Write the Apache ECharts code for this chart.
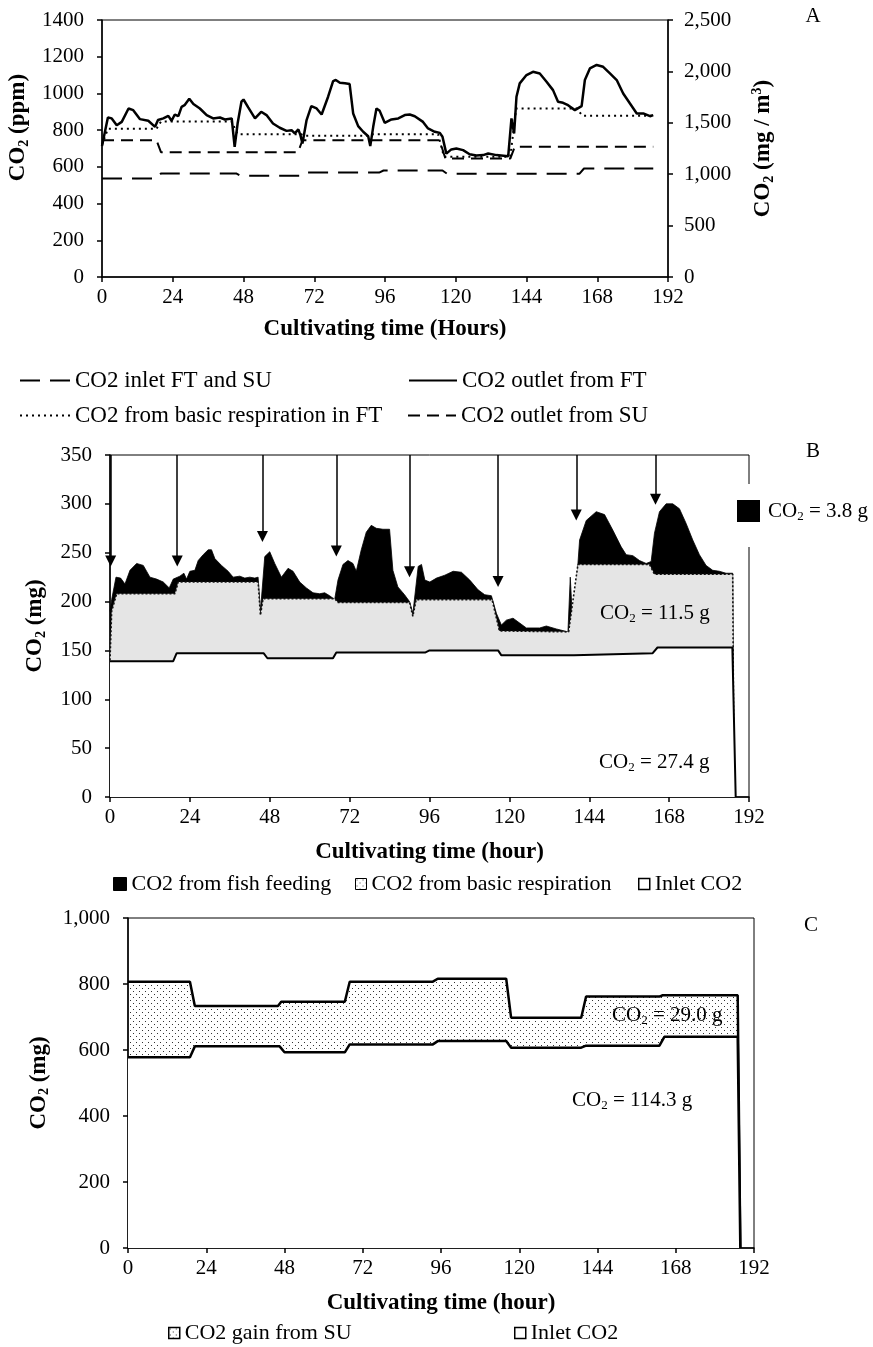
<!DOCTYPE html>
<html><head><meta charset="utf-8">
<script src="https://cdn.jsdelivr.net/npm/echarts@6.0.0/dist/echarts.min.js"></script>
<style>html,body{margin:0;padding:0;background:#fff}#c{width:873px;height:1347px}</style>
</head><body><div id="c"></div><script>
// ---------- tick labels ----------
const hourTicks = ['0','24','48','72','96','120','144','168','192'];
const ppmTicks = ['0','200','400','600','800','1000','1200','1400'];
const mgm3Ticks = ['0','500','1,000','1,500','2,000','2,500'];
const mgTicksB = ['0','50','100','150','200','250','300','350'];
const mgTicksC = ['0','200','400','600','800','1,000'];

// ---------- Panel A (ppm) : [hour, value] ----------
const inletA = [[0,537],[18.5,537],[20,564],[45.5,564],[47,551],[67,551],[68.5,569],[94,569],[95.5,580],[115.5,580],[117,563],[162,563],[163.5,591],[187,591]];
const outletSU = [[0,745],[18.5,745],[20,680],[66.5,680],[68,745],[114.5,745],[116.5,645],[138.5,645],[140,709],[187,709]];
const respA = [[0,720],[2,807],[18.5,807],[20,847],[44,847],[46,778],[67.5,778],[68.5,769],[90,769],[91,778],[114,778],[116,655],[138.5,655],[140.5,918],[161,918],[163,878],[187,878]];
const outletFT = [[0,713],[2,869],[3.3,864],[5,827],[6.7,845],[9,918],[10.6,909],[12.9,860],[15.7,851],[18,818],[19,855],[20.8,864],[22.5,878],[23.6,851],[24.7,885],[25.9,876],[27,927],[28,936],[29.6,971],[31,942],[33.2,918],[35.5,882],[37.7,864],[40,869],[41.7,858],[44,864],[45,709],[46,836],[47.3,955],[48,967],[49.6,924],[51.9,864],[54,900],[55.8,882],[58,836],[60.3,813],[62.6,796],[64.3,800],[65.4,782],[66.6,804],[67.3,773],[68,727],[69.4,855],[71,931],[72.8,918],[74.5,885],[76.7,982],[78.4,1067],[79.3,1073],[80.7,1058],[82.4,1055],[84,1051],[85.2,891],[86.9,822],[88.6,791],[90.3,767],[91,713],[92,818],[93.1,918],[94.2,905],[95.9,840],[98.2,858],[100.5,864],[102.7,882],[104.4,885],[106.1,876],[108.9,845],[110.6,809],[112.9,791],[114.6,785],[115.5,764],[116.8,672],[118.5,695],[120.2,700],[122.5,691],[124.7,669],[127,662],[129.3,664],[131,673],[133.8,664],[137.8,658],[138.9,864],[139.8,782],[140.6,982],[141.7,1055],[144,1100],[146.2,1118],[148.5,1109],[150.8,1064],[153,1018],[154.7,955],[156.4,949],[158.1,936],[160.4,909],[162.7,931],[163.8,1073],[165.5,1136],[167.8,1155],[170,1145],[172.3,1109],[174.6,1073],[176.8,1000],[179.1,945],[181.4,891],[183.6,891],[185.9,876],[187,882]];

// ---------- Panel B (mg) ----------
const feedB = [[0,190],[0.5,202],[1.8,225],[3.2,224],[4.5,218],[6,232],[8,239],[10,237],[12,225],[14,223],[16,220],[17.8,214],[19,223],[21,226],[22.2,229],[23,223],[24,231],[25.5,232],[26.5,242],[28,248],[29.5,253],[30.5,253],[31.5,244],[33.5,237],[35.5,231],[37,225],[39,226],[40.5,224],[42,225],[43.5,224],[44.5,225],[45.2,190],[46.5,246],[48,251],[49.5,239],[51.5,225],[53.5,234],[55,231],[57,220],[59,214],[61,209],[63,208],[64.5,209],[66,206],[67.5,202],[68.5,222],[70,238],[71.5,242],[73,239],[74,231],[75.5,253],[77,271],[78.5,278],[80,275],[82,274],[84,274],[85,232],[86.5,215],[88.5,207],[90,200],[91,188],[92.6,236],[93.6,238],[94.6,222],[96.1,220],[98.1,224],[100.6,227],[103.1,231],[105.6,230],[108.1,222],[110.6,212],[112.6,207],[114.6,206],[116.1,188],[117.6,176],[119.1,181],[121.1,183],[123.1,178],[125.1,173],[129.1,173],[131.1,175],[134.1,172],[137.6,169],[138.3,225],[139.1,172],[140.1,215],[141.1,263],[143.1,283],[146.1,292],[148.6,289],[151.1,273],[153.6,256],[155.1,248],[157.1,247],[159.1,242],[161.1,239],[162.6,241],[163.6,270],[165.1,292],[167.1,300],[169.1,300],[171.1,295],[173.1,280],[175.1,263],[177.1,248],[179.1,237],[181.1,232],[183.1,231],[185.1,229],[187.1,229],[187.5,0]];
const respB = [[0,140],[0.5,190],[2,208],[19.5,208],[20.5,220],[44.5,220],[45.2,186],[46,203],[67.5,203],[68.5,199],[90,199],[91,185],[92,202],[114.8,202],[117,170],[137.8,169],[140.6,238],[162.1,238],[163.6,228],[187.1,228],[187.5,0]];
const inletB = [[0,139],[19,139],[20,147],[46.2,147],[47.3,142],[67,142],[68,148],[94.8,148],[96,150],[116.6,150],[117.6,145],[139.4,145],[140,147],[163,147],[164.5,153],[187,153],[188,0]];
const arrowHours = [0.2,20.2,45.8,68,90,116.6,140.1,163.9];
const arrowTips = [236,236,261,246,225,215,283,299];

// ---------- Panel C (mg) ----------
const suC = [[0,807],[19,807],[20.5,733],[46,733],[47,746],[66.5,746],[68,807],[93.5,807],[95,816],[116,816],[117.5,698],[139,698],[140.5,762],[163,762],[164,766],[187,766],[187.8,0]];
const inletC = [[0,578],[19,578],[20.5,611],[46.5,611],[48,593],[66.5,593],[68,617],[93.5,617],[95,627],[116,627],[117.5,607],[139,607],[140.5,613],[163,613],[164.5,640],[187,640],[187.8,0]];

const F = 'Liberation Serif';
const TICK = 21, LEG = 23, TITLE = 23;

function dotPattern(){
  const c = document.createElement('canvas'); c.width = 6; c.height = 6;
  const g = c.getContext('2d'); g.fillStyle = '#333';
  g.fillRect(1,1,1,1); g.fillRect(4,4,1,1);
  return {image: c, repeat: 'repeat'};
}
const pat = dotPattern();

const richName = {
  b:{fontFamily:F,fontSize:TITLE,fontWeight:'bold',color:'#000',lineHeight:26},
  s:{fontFamily:F,fontSize:14,fontWeight:'bold',color:'#000',lineHeight:14,verticalAlign:'bottom'},
  p:{fontFamily:F,fontSize:14,fontWeight:'bold',color:'#000',lineHeight:14,verticalAlign:'top'}
};
const richAnn = {
  a:{fontFamily:F,fontSize:21,color:'#000',lineHeight:24},
  s:{fontFamily:F,fontSize:13,color:'#000',lineHeight:13,verticalAlign:'bottom'}
};

function xAx(gi, nameGap, name){
  return {type:'value', gridIndex:gi, min:0, max:192, interval:24, name:name, nameLocation:'middle', nameGap:nameGap,
    nameTextStyle:{fontFamily:F,fontSize:TITLE,fontWeight:'bold',color:'#000'},
    axisLine:{show:true,onZero:false,lineStyle:{color:'#000',width:1.5}},
    axisTick:{show:true,inside:false,length:5,lineStyle:{color:'#000',width:1.5}},
    axisLabel:{fontFamily:F,fontSize:TICK,color:'#000',margin:10,formatter:v=>hourTicks[Math.round(v/24)]},
    splitLine:{show:false}};
}
function yAx(gi, max, interval, labels, name, nameGap, pos, margin, namePad){
  return {type:'value', gridIndex:gi, min:0, max:max, interval:interval, position:pos,
    name:name, nameLocation:'middle', nameGap:nameGap, nameRotate:90,
    nameTextStyle:{rich:richName, padding:namePad||0},
    axisLine:{show:true,onZero:false,lineStyle:{color:'#000',width:1.5}},
    axisTick:{show:true,inside:false,length:5,lineStyle:{color:'#000',width:1.5}},
    axisLabel:{fontFamily:F,fontSize:TICK,color:'#000',margin:margin,formatter:v=>labels[Math.round(v/interval)]},
    splitLine:{show:false}};
}
const legText = {fontFamily:F,fontSize:LEG,color:'#000'};
function leg(item, left, top, w, h, fs){
  return {data:[item], left:left, top:top, itemWidth:w, itemHeight:h, padding:0, selectedMode:false,
    textStyle:Object.assign({}, legText, fs?{fontSize:fs}:{}), itemGap:0};
}
const noSym = {opacity:0};
const ARROW = 11;
const arrowShift = (ARROW/2) * 350/342;

const option = {
  animation:false,
  backgroundColor:'#fff',
  grid:[
    {left:102, top:20, width:566, height:257, show:true, borderColor:'#000', borderWidth:1, outerBoundsMode:'none'},
    {left:110, top:455, width:639, height:342, show:true, borderColor:'#000', borderWidth:1, outerBoundsMode:'none'},
    {left:128, top:918, width:626, height:330, show:true, borderColor:'#000', borderWidth:1, outerBoundsMode:'none'}
  ],
  xAxis:[ xAx(0,41,'Cultivating time (Hours)'), xAx(1,44,'Cultivating time (hour)'), xAx(2,44,'Cultivating time (hour)') ],
  yAxis:[
    yAx(0,1400,200,ppmTicks,'{b|CO}{s|2}{b| (ppm)}',52,'left',18,[0,0,0,42]),
    yAx(0,2500,500,mgm3Ticks,'{b|CO}{s|2}{b| (mg / m}{p|3}{b|)}',82,'right',16),
    yAx(1,350,50,mgTicksB,'{b|CO}{s|2}{b| (mg)}',62,'left',18),
    yAx(2,1000,200,mgTicksC,'{b|CO}{s|2}{b| (mg)}',70,'left',18)
  ],
  legend:[
    leg({name:'CO2 inlet FT and SU', itemStyle:noSym}, 19, 369, 50, 14),
    leg({name:'CO2 outlet from FT', itemStyle:noSym}, 408, 369, 48, 14),
    leg({name:'CO2 from basic respiration in FT', itemStyle:noSym}, 19, 404, 50, 14),
    leg({name:'CO2 outlet from SU', itemStyle:noSym}, 407, 404, 48, 14),
    leg({name:'CO2 from fish feeding', icon:'rect', itemStyle:{color:'#000',borderColor:'#000',borderWidth:1}}, 113, 873, 13, 13, 22),
    leg({name:'CO2 from basic respiration', icon:'rect', itemStyle:{color:pat,borderColor:'#000',borderWidth:1}}, 355, 873, 11, 11, 22),
    leg({name:'Inlet CO2', icon:'rect', itemStyle:{color:'#fff',borderColor:'#000',borderWidth:1.5}}, 638, 873, 11, 11, 22),
    leg({name:'CO2 gain from SU', icon:'rect', itemStyle:{color:pat,borderColor:'#000',borderWidth:1.5}}, 168, 1322, 11, 11, 22),
    leg({name:'Inlet CO2', icon:'rect', itemStyle:{color:'#fff',borderColor:'#000',borderWidth:1.5}}, 514, 1322, 11, 11, 22)
  ],
  series:[
    {name:'CO2 inlet FT and SU', type:'line', xAxisIndex:0, yAxisIndex:0, data:inletA, symbol:'none', lineStyle:{color:'#000',width:2,type:[20,10]}, itemStyle:{color:'#000'}},
    {name:'CO2 outlet from FT', type:'line', xAxisIndex:0, yAxisIndex:0, data:outletFT, symbol:'none', lineStyle:{color:'#000',width:2.5}, itemStyle:{color:'#000'}},
    {name:'CO2 from basic respiration in FT', type:'line', xAxisIndex:0, yAxisIndex:0, data:respA, symbol:'none', lineStyle:{color:'#000',width:2,type:[2,4]}, itemStyle:{color:'#000'}},
    {name:'CO2 outlet from SU', type:'line', xAxisIndex:0, yAxisIndex:0, data:outletSU, symbol:'none', lineStyle:{color:'#000',width:2,type:[12,7]}, itemStyle:{color:'#000'}},

    {name:'CO2 from fish feeding', type:'line', xAxisIndex:1, yAxisIndex:2, data:feedB, symbol:'none', z:2,
      lineStyle:{color:'#000',width:0.8}, itemStyle:{color:'#000'}, areaStyle:{color:'#000',opacity:1}},
    {name:'CO2 from basic respiration', type:'line', xAxisIndex:1, yAxisIndex:2, data:respB, symbol:'none', z:3,
      lineStyle:{color:'#111',width:1.6,type:[2,2]}, itemStyle:{color:'#e3e3e3'}, areaStyle:{color:'#e5e5e5',opacity:1}},
    {name:'Inlet CO2', type:'line', xAxisIndex:1, yAxisIndex:2, data:inletB, symbol:'none', z:4,
      lineStyle:{color:'#000',width:2}, itemStyle:{color:'#fff'}, areaStyle:{color:'#fff',opacity:1},
      markLine:{silent:true, animation:false, symbol:['none','triangle'], symbolSize:ARROW,
        lineStyle:{color:'#000',width:1.5,type:'solid'}, label:{show:false}, emphasis:{disabled:true},
        data: arrowHours.map((h,i)=>[{coord:[h,350]},{coord:[h,arrowTips[i]+arrowShift]}])}},

    {name:'CO2 gain from SU', type:'line', xAxisIndex:2, yAxisIndex:3, data:suC, symbol:'none', z:2,
      lineStyle:{color:'#000',width:2.5}, itemStyle:{color:'#000'}, areaStyle:{color:pat,opacity:1}},
    {name:'Inlet CO2', type:'line', xAxisIndex:2, yAxisIndex:3, data:inletC, symbol:'none', z:3,
      lineStyle:{color:'#000',width:2.5}, itemStyle:{color:'#fff'}, areaStyle:{color:'#fff',opacity:1}}
  ],
  graphic:[
    {type:'text', x:813, y:16, z:50, style:{text:'A', font:'21px "Liberation Serif"', fill:'#000', align:'center', verticalAlign:'middle'}},
    {type:'text', x:813, y:451, z:50, style:{text:'B', font:'21px "Liberation Serif"', fill:'#000', align:'center', verticalAlign:'middle'}},
    {type:'text', x:811, y:925, z:50, style:{text:'C', font:'21px "Liberation Serif"', fill:'#000', align:'center', verticalAlign:'middle'}},
    {type:'rect', z:50, shape:{x:735, y:484, width:22, height:63}, style:{fill:'#fff'}},
    {type:'rect', z:51, shape:{x:737, y:500, width:23, height:22}, style:{fill:'#000'}},
    {type:'text', x:768, y:511, z:51, style:{text:'{a|CO}{s|2}{a| = 3.8 g}', rich:richAnn, align:'left', verticalAlign:'middle'}},
    {type:'text', x:600, y:613, z:51, style:{text:'{a|CO}{s|2}{a| = 11.5 g}', rich:richAnn, align:'left', verticalAlign:'middle'}},
    {type:'text', x:599, y:762, z:51, style:{text:'{a|CO}{s|2}{a| = 27.4 g}', rich:richAnn, align:'left', verticalAlign:'middle'}},
    {type:'text', x:612, y:1015, z:51, style:{text:'{a|CO}{s|2}{a| = 29.0 g}', rich:richAnn, align:'left', verticalAlign:'middle'}},
    {type:'text', x:572, y:1100, z:51, style:{text:'{a|CO}{s|2}{a| = 114.3 g}', rich:richAnn, align:'left', verticalAlign:'middle'}}
  ]
};
const chart = echarts.init(document.getElementById('c'), null, {renderer:'canvas'});
chart.setOption(option);
</script></body></html>
